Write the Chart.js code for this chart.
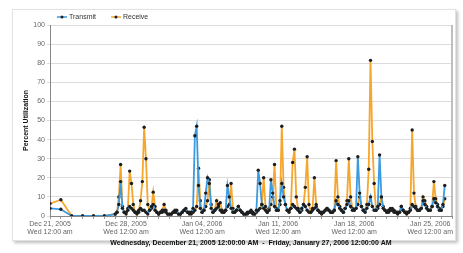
<!DOCTYPE html>
<html>
  <head>
    <meta charset="utf-8" />
    <title>Percent Utilization</title>
    <script src="https://cdn.jsdelivr.net/npm/chart.js@4.4.1/dist/chart.umd.min.js"></script>
    <style>
      body { margin: 0; background: #fff; }
      #wrap { position: relative; width: 463px; height: 253px; }
      #frame {
        position: absolute; left: 12px; top: 9px; width: 442px; height: 230px;
        border: 1px solid #e2e2e2; box-shadow: 2px 2px 3px rgba(0,0,0,0.25);
      }
      #chart { position: absolute; left: 0; top: 0; }
    </style>
  </head>
  <body>
    <div id="wrap">
      <div id="frame"></div>
      <canvas id="chart" width="463" height="253"></canvas>
    </div>
    <script type="text/javascript">
      // week labels (every 7 days from Dec 21, 2005)
      const weekLabels = ["Dec 21, 2005", "Dec 28, 2005", "Jan 04, 2006", "Jan 11, 2006", "Jan 18, 2006", "Jan 25, 2006"];
      const weekSubLabel = "Wed 12:00 am";
      const xTitle = "Wednesday, December 21, 2005 12:00:00 AM  -  Friday, January 27, 2006 12:00:00 AM";

      // daily samples, Dec 21 - Dec 26
      const sparseTransmit = [4, 3.5, 0, 0, 0, 0];
      const sparseReceive = [6.5, 8.5, 0, 0, 0, 0];

      // 4-hourly samples from Dec 27 (6 per day)
      const denseTransmit = [
        1, 2, 6, 18, 4, 2,
        2, 3, 5, 4, 3, 2,
        2, 3, 4, 3, 3, 2,
        1, 3, 5, 6, 3, 2,
        1, 2, 2, 3, 2, 1,
        1, 1, 2, 2, 3, 1,
        1, 2, 3, 4, 2, 2,
        2, 4, 42, 47, 16, 4,
        2, 3, 12, 20, 17, 4,
        2, 3, 4, 5, 3, 2,
        2, 3, 16, 10, 4, 2,
        2, 3, 5, 3, 2, 1,
        1, 2, 2, 3, 2, 1,
        3, 24, 17, 6, 4, 3,
        2, 3, 19, 12, 5, 3,
        3, 8, 17, 10, 6, 3,
        3, 4, 6, 5, 4, 3,
        2, 4, 6, 5, 3, 2,
        2, 3, 4, 5, 3, 2,
        2, 2, 3, 4, 3, 2,
        2, 3, 8, 6, 4, 3,
        2, 4, 6, 8, 5, 3,
        3, 4, 31, 12, 5, 3,
        2, 4, 6, 10, 5, 3,
        3, 5, 32, 10, 4, 3,
        2, 3, 4, 3, 3, 2,
        2, 2, 5, 3, 2, 2,
        2, 3, 6, 5, 4, 3,
        3, 4, 8, 6, 4, 3,
        3, 5, 9, 7, 5, 3,
        3, 6, 16
      ];
      const denseReceive = [
        1, 2, 10, 27, 5, 2,
        1, 4, 23.5, 17, 6, 2,
        1, 2, 8, 18, 46.5, 30,
        6, 3, 4, 12.5, 5, 2,
        1, 2, 3, 6, 3, 1,
        1, 1, 2, 3, 2, 1,
        1, 2, 3, 3, 2, 1,
        1, 2, 3, 5, 25, 8,
        2, 3, 5, 8, 19, 6,
        2, 3, 8, 6, 7, 3,
        2, 3, 5, 6, 17, 4,
        2, 3, 5, 3, 2, 1,
        1, 1, 2, 2, 1, 1,
        2, 3, 4, 6, 20, 5,
        2, 4, 6, 10, 27, 4,
        3, 6, 47, 15, 6, 3,
        2, 4, 28, 35, 10, 4,
        2, 3, 6, 15, 31, 6,
        2, 4, 20, 6, 3, 2,
        1, 2, 3, 4, 3, 2,
        2, 3, 29, 10, 5, 3,
        2, 4, 8, 30, 10, 4,
        3, 4, 6, 10, 5, 3,
        3, 6, 24.5, 81.5, 39, 17,
        3, 4, 6, 10, 5, 3,
        2, 2, 3, 4, 2, 2,
        1, 2, 5, 3, 2, 1,
        2, 4, 45, 12, 5, 3,
        3, 4, 10, 8, 5, 3,
        3, 5, 18, 9, 6, 4,
        3, 5, 9
      ];

      const blue = "#3b9be0";
      const orange = "#f6a62c";
      const font = "'Liberation Sans', Arial, sans-serif";

      // time in days since Dec 21 00:00
      function toPoints(sparse, dense) {
        const pts = sparse.map((v, i) => ({ x: i, y: v }));
        dense.forEach((v, j) => pts.push({ x: sparse.length + j / 6, y: v }));
        return pts;
      }

      const legendPlugin = {
        id: "topLegend",
        afterDraw(chart) {
          const ctx = chart.ctx;
          let x = chart.chartArea.left + 7;
          const y = chart.chartArea.top - 8;
          ctx.save();
          ctx.font = "7px " + font;
          ctx.textBaseline = "middle";
          chart.data.datasets.forEach((ds) => {
            ctx.strokeStyle = ds.borderColor;
            ctx.lineWidth = 1.5;
            ctx.beginPath();
            ctx.moveTo(x, y);
            ctx.lineTo(x + 10, y);
            ctx.stroke();
            ctx.fillStyle = "#222";
            ctx.beginPath();
            ctx.arc(x + 5, y, 1.5, 0, Math.PI * 2);
            ctx.fill();
            ctx.fillStyle = "#333";
            ctx.fillText(ds.label, x + 12, y);
            x += 12 + ctx.measureText(ds.label).width + 15;
          });
          ctx.restore();
        },
      };

      const chart = new Chart(document.getElementById("chart"), {
        type: "line",
        data: {
          datasets: [
            {
              label: "Transmit",
              data: toPoints(sparseTransmit, denseTransmit),
              borderColor: blue,
              borderWidth: 1.8,
              pointRadius: 1.7,
              pointBackgroundColor: "#1e1e1e",
              pointBorderWidth: 0,
              tension: 0,
            },
            {
              label: "Receive",
              data: toPoints(sparseReceive, denseReceive),
              borderColor: orange,
              borderWidth: 1.8,
              pointRadius: 1.7,
              pointBackgroundColor: "#1e1e1e",
              pointBorderWidth: 0,
              tension: 0,
            },
          ],
        },
        options: {
          responsive: false,
          animation: false,
          layout: { padding: { left: 22, right: 11, top: 25, bottom: 6 } },
          plugins: { legend: { display: false }, tooltip: { enabled: false } },
          scales: {
            x: {
              type: "linear",
              min: 0,
              max: 37,
              afterFit: (s) => { s.height = 31; },
              grid: { drawOnChartArea: false, tickLength: 3, color: "#999" },
              border: { color: "#888" },
              ticks: {
                stepSize: 1,
                autoSkip: false,
                maxRotation: 0,
                padding: 1,
                color: "#666",
                font: { family: font, size: 7, lineHeight: 1.15 },
                callback: (v) => (v % 7 === 0 ? [weekLabels[v / 7], weekSubLabel] : ""),
              },
              title: {
                display: true,
                text: xTitle,
                color: "#111",
                padding: 0,
                font: { family: font, size: 7, weight: "bold" },
              },
            },
            y: {
              min: 0,
              max: 100,
              afterFit: (s) => { s.width = 28; },
              grid: { color: "#dcdcdc", tickLength: 3 },
              border: { color: "#888" },
              ticks: { stepSize: 10, padding: 2, color: "#666", font: { family: font, size: 7 } },
              title: {
                display: true,
                text: "Percent Utilization",
                color: "#111",
                padding: 0,
                font: { family: font, size: 7, weight: "bold" },
              },
            },
          },
        },
        plugins: [
          legendPlugin,
          {
            id: "rightBorder",
            afterDraw(c) {
              const a = c.chartArea;
              const ctx = c.ctx;
              ctx.save();
              ctx.strokeStyle = "#aaa";
              ctx.lineWidth = 1.5;
              ctx.beginPath();
              ctx.moveTo(a.right, a.top);
              ctx.lineTo(a.right, a.bottom);
              ctx.stroke();
              ctx.restore();
            },
          },
        ],
      });
    </script>
  </body>
</html>
